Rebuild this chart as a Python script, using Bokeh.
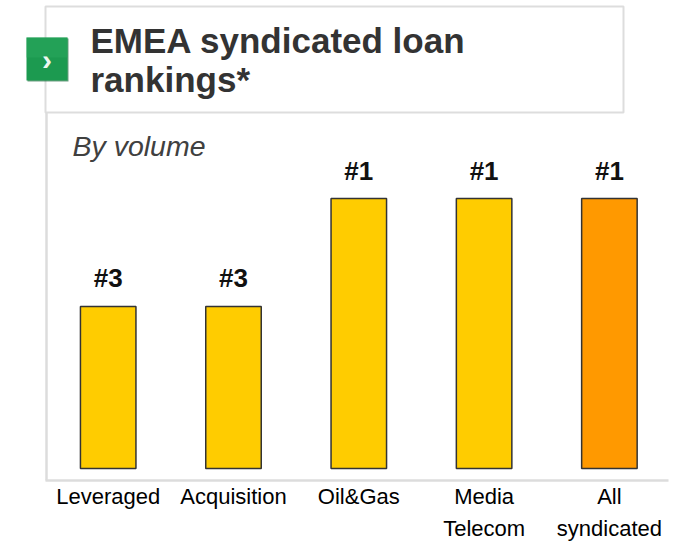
from bokeh.plotting import figure
from bokeh.models import Range1d, ColumnDataSource
from bokeh.core.properties import value
from bokeh.embed import file_html
from bokeh.resources import INLINE

# ---- data ----
categories = ["Leveraged", "Acquisition", "Oil&Gas", "Media\nTelecom", "All\nsyndicated"]
bar_heights = [3, 3, 5, 5, 5]
rank_labels = ["#3", "#3", "#1", "#1", "#1"]
bar_colors = ["#FFCC00", "#FFCC00", "#FFCC00", "#FFCC00", "#FF9900"]
title_lines = ["EMEA syndicated loan", "rankings*"]
subtitle = "By volume"

W, H = 686, 542
x_index = list(range(len(categories)))
src = ColumnDataSource(dict(x=x_index, top=bar_heights, label=rank_labels,
                            color=bar_colors, cat=categories))

p = figure(width=W, height=H, output_backend="svg", toolbar_location=None,
           x_range=Range1d(-0.8595, 4.6153), y_range=Range1d(-1.3704, 8.6667),
           x_axis_type=None, y_axis_type=None, min_border=0,
           outline_line_color=None, background_fill_color="white")
p.grid.visible = False
p.extra_x_ranges = {"px": Range1d(0, W)}
p.extra_y_ranges = {"px": Range1d(H, 0)}

PX = dict(x_range_name="px", y_range_name="px")
FONT = value("Liberation Sans")

# title box and frame lines
p.quad(left=45, right=623, top=6, bottom=112, fill_color=None,
       line_color="#dddddd", line_width=2, **PX)
p.segment(x0=46, y0=112, x1=46, y1=480, line_color="#dcdcdc", line_width=2.5, **PX)
p.segment(x0=45, y0=480, x1=668, y1=480, line_color="#dcdcdc", line_width=2.5, **PX)

# green icon
p.rect(x=47.5, y=59.5, width=41, height=43, fill_color="#0d5f2f", fill_alpha=0.6,
       line_color=None, **PX)
p.rect(x=46.5, y=58.5, width=41, height=43, fill_color="#1c9a50", line_color=None, **PX)
p.rect(x=46.5, y=47, width=41, height=20, fill_color="#2aa75d", fill_alpha=0.5,
       line_color=None, **PX)
p.text(x=[46.5], y=[58.5], text=["\u203a"], text_align="center", text_baseline="middle",
       text_font=FONT, text_font_style="bold", text_font_size="30px",
       text_color="#eef8f1", **PX)

# title
p.text(x=[90, 90], y=[40, 79], text=title_lines, text_align="left",
       text_baseline="alphabetic", text_font=FONT, text_font_style="bold",
       text_font_size="35px", text_color="#333333", **PX)

# subtitle
p.text(x=[72], y=[145], text=[subtitle], text_align="left", text_baseline="alphabetic",
       text_font=FONT, text_font_style="italic", text_font_size="28.5px",
       text_color="#404040", **PX)

# bars
p.vbar(x="x", width=0.443, bottom=0, top="top", fill_color="color",
       line_color="#333333", line_width=1.5, source=src)

# rank labels
p.text(x="x", y="top", text="label", y_offset=-28, text_align="center",
       text_baseline="alphabetic", text_font=FONT, text_font_style="bold",
       text_font_size="26px", text_color="#111111", source=src)

# category labels
p.text(x="x", y=0, text="cat", y_offset=16, text_align="center",
       text_baseline="top", text_font=FONT, text_font_size="22px",
       text_line_height=1.25, text_color="#000000", source=src)

open("out.html", "w").write(file_html(p, INLINE))
